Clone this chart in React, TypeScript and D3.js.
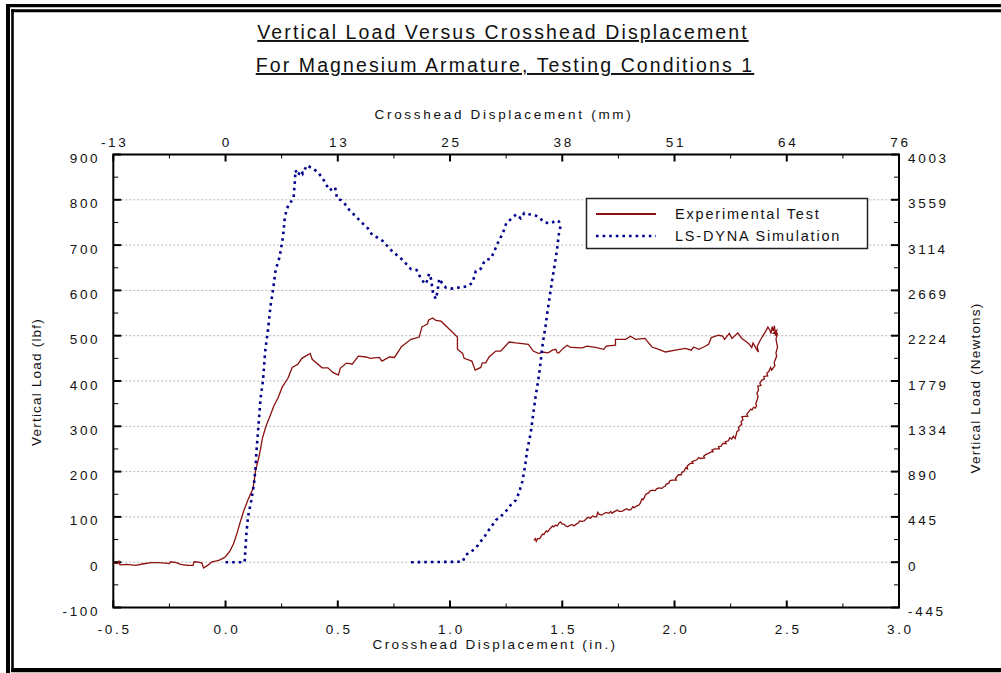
import React from "react";
import * as d3 from "d3";

const title1 = "Vertical Load Versus Crosshead Displacement ";
const title2 = "For Magnesium Armature, Testing Conditions 1";
const xTicksIn = [-0.5, 0, 0.5, 1.0, 1.5, 2.0, 2.5, 3.0];
const xTickLabelsIn = ["-0.5", "0.0", "0.5", "1.0", "1.5", "2.0", "2.5", "3.0"];
const xTickLabelsMm = ["-13", "0", "13", "25", "38", "51", "64", "76"];
const yTicksLbf = [-100, 0, 100, 200, 300, 400, 500, 600, 700, 800, 900];
const yTickLabelsN = ["-445", "0", "445", "890", "1334", "1779", "2224", "2669", "3114", "3559", "4003"];
const gridValues = [0, 100, 200, 300, 400, 500, 600, 700, 800];

const seriesNames = ["Experimental Test", "LS-DYNA Simulation"];

const experimental: [number, number][] = [
  [-0.5, -2], [-0.48, -3], [-0.475, 2], [-0.47, -6], [-0.44, -5], [-0.4, -7], [-0.37, -4], [-0.33, -1],
  [-0.3, -1], [-0.27, -2], [-0.25, -3], [-0.245, 1], [-0.22, -1], [-0.2, -5], [-0.17, -7], [-0.145, -7],
  [-0.14, 1], [-0.12, 0], [-0.105, -2], [-0.098, -13], [-0.08, -7], [-0.06, 1], [-0.04, 3], [-0.025, 5],
  [-0.01, 9], [0.0, 12], [0.02, 25], [0.035, 40], [0.05, 62], [0.065, 88], [0.08, 112], [0.1, 138],
  [0.122, 162], [0.135, 205], [0.15, 235], [0.165, 275], [0.18, 300], [0.2, 325], [0.215, 345],
  [0.233, 362], [0.253, 387], [0.278, 406], [0.297, 430], [0.322, 437], [0.34, 450], [0.377, 461],
  [0.386, 448], [0.43, 429], [0.456, 429], [0.478, 419], [0.503, 413], [0.511, 428], [0.537, 439],
  [0.55, 439], [0.564, 437], [0.592, 455], [0.626, 453], [0.644, 450], [0.685, 452], [0.697, 444],
  [0.73, 453], [0.752, 452], [0.774, 468], [0.782, 475], [0.826, 492], [0.863, 497], [0.875, 520],
  [0.885, 522], [0.9, 526], [0.904, 534], [0.922, 539], [0.937, 534], [0.96, 532], [1.033, 497],
  [1.033, 470], [1.056, 461], [1.063, 450], [1.097, 444], [1.112, 424], [1.137, 430], [1.144, 440],
  [1.159, 440], [1.174, 453], [1.204, 466], [1.226, 466], [1.263, 486], [1.293, 484], [1.349, 481],
  [1.371, 466], [1.393, 461], [1.404, 462], [1.411, 464], [1.437, 462], [1.456, 468], [1.471, 470],
  [1.478, 462], [1.485, 462], [1.503, 472], [1.522, 479], [1.537, 474], [1.589, 473], [1.611, 477],
  [1.648, 474], [1.685, 470], [1.696, 477], [1.737, 479], [1.737, 492], [1.782, 492], [1.804, 499],
  [1.826, 492], [1.868, 494], [1.9, 475], [1.93, 470], [1.96, 464], [2.004, 468], [2.048, 472],
  [2.075, 468], [2.085, 475], [2.108, 470], [2.13, 475], [2.152, 481], [2.164, 496], [2.196, 501],
  [2.214, 499], [2.223, 492], [2.244, 505], [2.256, 494], [2.282, 506], [2.3, 494], [2.33, 483],
  [2.344, 474], [2.35, 484], [2.365, 470], [2.374, 464], [2.368, 476], [2.382, 490], [2.404, 508],
  [2.416, 519], [2.425, 512], [2.43, 505], [2.435, 520], [2.44, 510], [2.445, 522], [2.45, 500],
  [2.455, 512], [2.44, 505], [2.458, 505], [2.452, 492], [2.459, 475], [2.452, 462], [2.455, 455],
  [2.448, 446], [2.444, 440], [2.447, 434], [2.433, 424], [2.428, 430], [2.42, 421], [2.411, 417],
  [2.415, 411], [2.398, 410], [2.4, 404], [2.389, 402], [2.38, 395], [2.385, 390], [2.371, 389],
  [2.374, 380], [2.367, 373], [2.372, 366], [2.368, 358], [2.362, 350], [2.366, 345], [2.359, 340],
  [2.352, 342], [2.345, 336], [2.34, 338], [2.33, 332], [2.322, 327], [2.326, 322], [2.31, 322],
  [2.3, 321], [2.305, 314], [2.296, 310], [2.3, 305], [2.29, 300], [2.285, 297], [2.288, 292],
  [2.278, 288], [2.274, 280], [2.27, 273], [2.262, 278], [2.255, 272], [2.246, 275], [2.24, 268],
  [2.226, 266], [2.23, 262], [2.215, 262], [2.208, 256], [2.196, 255], [2.2, 250], [2.18, 250],
  [2.167, 248], [2.172, 244], [2.16, 243], [2.152, 240], [2.14, 238], [2.13, 234], [2.134, 230],
  [2.115, 229], [2.108, 231], [2.1, 226], [2.078, 222], [2.082, 218], [2.07, 218], [2.063, 215],
  [2.056, 212], [2.058, 206], [2.05, 208], [2.041, 200], [2.034, 199], [2.03, 193], [2.018, 193],
  [2.004, 185], [2.008, 181], [1.99, 181], [1.98, 180], [1.974, 174], [1.962, 172], [1.96, 168],
  [1.95, 166], [1.944, 163], [1.93, 164], [1.92, 162], [1.914, 158], [1.9, 159], [1.89, 157],
  [1.885, 153], [1.875, 151], [1.87, 148], [1.865, 142], [1.86, 138], [1.855, 140], [1.848, 131],
  [1.841, 126], [1.83, 124], [1.82, 120], [1.815, 123], [1.806, 116], [1.796, 115], [1.787, 118],
  [1.775, 115], [1.765, 112], [1.752, 112], [1.745, 115], [1.73, 111], [1.722, 108], [1.716, 112],
  [1.708, 108], [1.695, 110], [1.685, 107], [1.674, 104], [1.663, 106], [1.658, 110], [1.652, 100],
  [1.645, 100], [1.635, 102], [1.626, 97], [1.615, 99], [1.605, 95], [1.598, 91], [1.589, 90],
  [1.578, 91], [1.57, 86], [1.562, 84], [1.552, 80], [1.545, 83], [1.535, 82], [1.525, 78],
  [1.515, 80], [1.508, 84], [1.5, 84], [1.492, 89], [1.485, 86], [1.478, 80], [1.47, 82],
  [1.462, 78], [1.456, 80], [1.45, 76], [1.445, 74], [1.44, 70], [1.433, 67], [1.428, 69],
  [1.418, 61], [1.412, 62], [1.404, 56], [1.4, 52], [1.39, 52], [1.384, 46], [1.38, 52], [1.374, 48],
];

const simulation: [number, number][] = [
  [0, 0], [0.04, 0], [0.085, 0], [0.093, 64], [0.1, 100], [0.115, 137], [0.127, 174], [0.134, 211],
  [0.137, 240], [0.145, 290], [0.156, 362], [0.167, 402], [0.177, 468], [0.189, 512], [0.2, 564],
  [0.211, 600], [0.223, 645], [0.241, 674], [0.256, 718], [0.263, 755], [0.271, 777], [0.282, 790],
  [0.303, 803], [0.308, 836], [0.312, 865], [0.322, 854], [0.337, 865], [0.344, 858], [0.362, 876],
  [0.389, 869], [0.411, 861], [0.433, 847], [0.463, 821], [0.488, 828], [0.497, 803], [0.515, 799],
  [0.537, 788], [0.552, 777], [0.575, 766], [0.604, 751], [0.634, 737], [0.654, 722], [0.671, 718],
  [0.701, 709], [0.737, 689], [0.789, 667], [0.826, 647], [0.851, 645], [0.875, 622], [0.893, 614],
  [0.907, 637], [0.915, 626], [0.925, 592], [0.937, 581], [0.944, 597], [0.952, 626], [0.967, 614],
  [0.982, 606], [1.008, 604], [1.033, 606], [1.078, 609], [1.1, 617], [1.115, 643], [1.137, 648],
  [1.156, 667], [1.181, 670], [1.196, 685], [1.211, 703], [1.236, 727], [1.251, 749], [1.275, 759],
  [1.295, 768], [1.315, 759], [1.331, 771], [1.352, 768], [1.378, 766], [1.396, 761], [1.422, 750],
  [1.444, 748], [1.456, 750], [1.473, 755], [1.485, 752], [1.493, 744], [1.485, 725], [1.477, 692],
  [1.467, 659], [1.456, 626], [1.444, 586], [1.433, 549], [1.425, 520], [1.413, 483], [1.403, 439],
  [1.393, 402], [1.381, 365], [1.369, 321], [1.359, 284], [1.344, 248], [1.334, 211], [1.322, 178],
  [1.307, 153], [1.293, 137], [1.27, 126], [1.248, 112], [1.226, 101], [1.204, 93], [1.189, 82],
  [1.167, 67], [1.152, 55], [1.13, 42], [1.115, 31], [1.093, 23], [1.07, 16], [1.056, 1], [0.826, 0],
];

const RED = "#8b1010";
const BLUE = "#00008b";
const FONT = "'Liberation Sans', Arial, sans-serif";

export default function App() {
  const W = 1001, H = 673;
  const left = 113.3, right = 899, top = 154.5, bottom = 607.5;
  const x = d3.scaleLinear().domain([-0.5, 3.0]).range([left, right]);
  const y = d3.scaleLinear().domain([-100, 900]).range([bottom, top]);
  const line = d3.line<[number, number]>().x((d) => x(d[0])).y((d) => y(d[1]));

  const xMinor = d3.range(-0.25, 3.0, 0.5);
  const yMinor = d3.range(-50, 900, 100);
  const tickStyle = { fontFamily: FONT, fontSize: 13.5, letterSpacing: 2.7, fill: "#111" } as const;

  return (
    <svg width={W} height={H} style={{ position: "absolute", left: 0, top: 0, background: "#fff" }}>
      <rect x={0} y={0} width={W} height={H} fill="#fff" />
      {/* frame */}
      <g fill="none" stroke="#000">
        <line x1={8} y1={4} x2={8} y2={H} strokeWidth={4} />
        <line x1={6} y1={5.6} x2={W} y2={5.6} strokeWidth={3.4} />
        <line x1={12.5} y1={9.3} x2={12.5} y2={672} strokeWidth={2.6} />
        <line x1={11.2} y1={10.8} x2={W} y2={10.8} strokeWidth={3} />
        <line x1={11.2} y1={670.2} x2={W} y2={670.2} strokeWidth={4.2} />
      </g>

      {/* titles */}
      <text x={503} y={39} textAnchor="middle" fontFamily={FONT} fontSize={19.5} letterSpacing={2.1} textDecoration="underline" fill="#111">{title1}</text>
      <text x={505} y={72} textAnchor="middle" fontFamily={FONT} fontSize={19.5} letterSpacing={2.1} textDecoration="underline" fill="#111">{title2}</text>

      {/* grid */}
      <g stroke="#b4b4b4" strokeWidth={1} strokeDasharray="2,2">
        {gridValues.map((v) => (
          <line key={v} x1={left} x2={right} y1={y(v)} y2={y(v)} />
        ))}
      </g>

      {/* axes box */}
      <rect x={left} y={top} width={right - left} height={bottom - top} fill="none" stroke="#000" strokeWidth={2} />

      {/* ticks */}
      <g stroke="#000">
        {xTicksIn.map((v) => (
          <g key={"xt" + v}>
            <line x1={x(v)} x2={x(v)} y1={bottom} y2={bottom - 7} strokeWidth={2} />
            <line x1={x(v)} x2={x(v)} y1={top} y2={top + 7} strokeWidth={2} />
          </g>
        ))}
        {xMinor.map((v) => (
          <g key={"xm" + v}>
            <line x1={x(v)} x2={x(v)} y1={bottom} y2={bottom - 4} strokeWidth={1} />
            <line x1={x(v)} x2={x(v)} y1={top} y2={top + 4} strokeWidth={1} />
          </g>
        ))}
        {yTicksLbf.map((v) => (
          <g key={"yt" + v}>
            <line x1={left} x2={left + 8} y1={y(v)} y2={y(v)} strokeWidth={2} />
            <line x1={right} x2={right - 8} y1={y(v)} y2={y(v)} strokeWidth={2} />
          </g>
        ))}
        {yMinor.map((v) => (
          <g key={"ym" + v}>
            <line x1={left} x2={left + 5} y1={y(v)} y2={y(v)} strokeWidth={1} />
            <line x1={right} x2={right - 5} y1={y(v)} y2={y(v)} strokeWidth={1} />
          </g>
        ))}
      </g>

      {/* tick labels */}
      {xTicksIn.map((v, i) => (
        <text key={"xl" + v} x={x(v) + 1.4} y={bottom + 26} textAnchor="middle" {...tickStyle}>{xTickLabelsIn[i]}</text>
      ))}
      {xTicksIn.map((v, i) => (
        <text key={"xlm" + v} x={x(v) + 1.4} y={top - 8} textAnchor="middle" {...tickStyle}>{xTickLabelsMm[i]}</text>
      ))}
      {yTicksLbf.map((v) => (
        <text key={"yl" + v} x={left - 13} y={y(v) + 8.5} textAnchor="end" {...tickStyle}>{String(v)}</text>
      ))}
      {yTicksLbf.map((v, i) => (
        <text key={"yr" + v} x={right + 9} y={y(v) + 8.5} textAnchor="start" {...tickStyle}>{yTickLabelsN[i]}</text>
      ))}

      {/* axis titles */}
      <text x={504} y={119} textAnchor="middle" {...tickStyle}>Crosshead Displacement (mm)</text>
      <text x={495} y={649} textAnchor="middle" {...tickStyle} letterSpacing={2.4}>Crosshead Displacement (in.)</text>
      <text transform={`translate(41, 382) rotate(-90)`} textAnchor="middle" fontFamily={FONT} fontSize={13.5} letterSpacing={1.2} fill="#111">Vertical Load (lbf)</text>
      <text transform={`translate(980, 388) rotate(-90)`} textAnchor="middle" fontFamily={FONT} fontSize={13.5} letterSpacing={1.2} fill="#111">Vertical Load (Newtons)</text>

      {/* data */}
      <path d={line(experimental) || ""} fill="none" stroke={RED} strokeWidth={1.3} strokeLinejoin="miter" />
      <path d={line(simulation) || ""} fill="none" stroke={BLUE} strokeWidth={2.6} strokeDasharray="2.6,4" />

      {/* legend */}
      <rect x={586.5} y={198.5} width={281} height={50} fill="#fff" stroke="#222" strokeWidth={1.5} />
      <line x1={596} x2={656} y1={214} y2={214} stroke={RED} strokeWidth={2} />
      <line x1={596} x2={656} y1={236} y2={236} stroke={BLUE} strokeWidth={2.6} strokeDasharray="2.6,4" />
      <text x={675} y={219} fontFamily={FONT} fontSize={14.5} letterSpacing={1.8} fill="#111">{seriesNames[0]}</text>
      <text x={675} y={241} fontFamily={FONT} fontSize={14.5} letterSpacing={1.8} fill="#111">{seriesNames[1]}</text>
    </svg>
  );
}
